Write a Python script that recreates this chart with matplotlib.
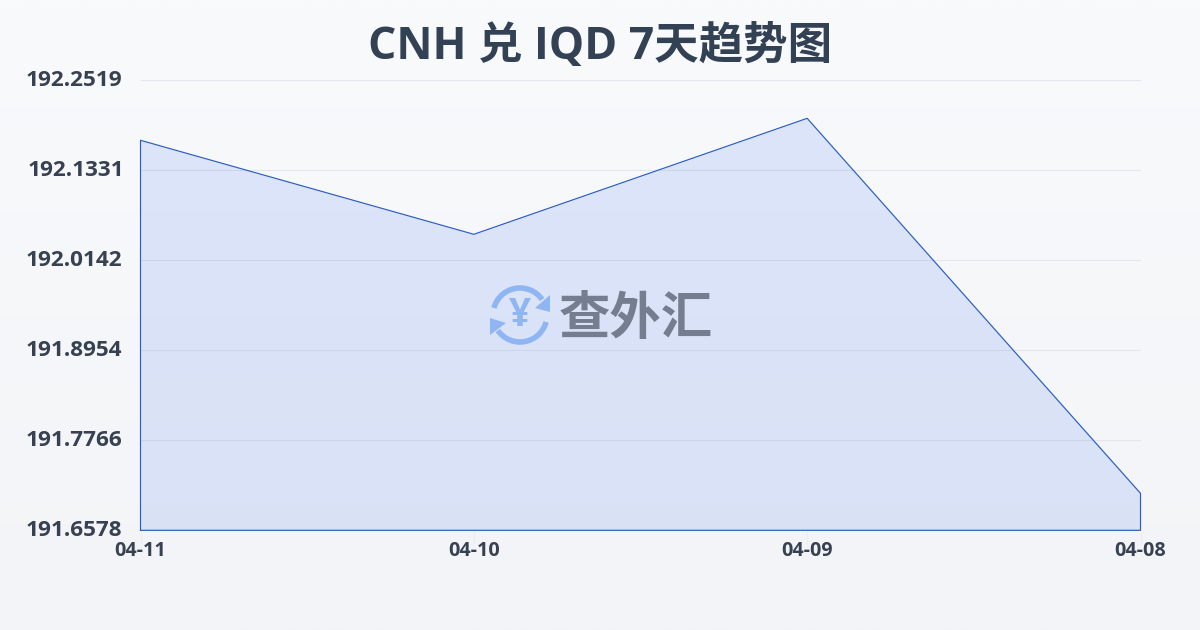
import matplotlib
matplotlib.use('Agg')
import matplotlib.pyplot as plt
import numpy as np
from matplotlib.patches import Arc, Polygon

plt.rcParams['font.family'] = ['Open Sans', 'Noto Sans CJK SC', 'DejaVu Sans']

dates = ['04-11', '04-10', '04-09', '04-08']
rates = [192.1727, 192.0486, 192.2017, 191.7066]
yticks = [192.2519, 192.1331, 192.0142, 191.8954, 191.7766, 191.6578]
ymin = 191.6578
ymax = 192.2519

fig = plt.figure(figsize=(12, 6.3), dpi=100)

# background gradient
bg = fig.add_axes([0, 0, 1, 1], zorder=0)
grad = np.linspace(0, 1, 256).reshape(-1, 1, 1)
top = np.array([0xf9, 0xfa, 0xfc]) / 255
bottom = np.array([0xf3, 0xf4, 0xf7]) / 255
bg.imshow(top + (bottom - top) * grad, aspect='auto', extent=[0, 1200, 630, 0])
bg.axis('off')

ax = fig.add_axes([140.5 / 1200, 99.7 / 630, 1000 / 1200, 450 / 630], zorder=1)
ax.patch.set_alpha(0)
x = np.arange(len(dates))
ax.fill_between(x, rates, ymin, color='#2563eb', alpha=0.13, lw=0, zorder=2)
ax.plot(list(x[:1]) + list(x) + list(x[-1:]) + list(x[:1]), [ymin] + rates + [ymin, ymin],
        color='#2a5cc4', lw=0.85, zorder=3, clip_on=False)
ax.set_xlim(0, 3)
ax.set_ylim(ymin, ymax)
ax.set_yticks(yticks)
ax.set_yticklabels([])
ax.set_xticks(x)
ax.set_xticklabels(dates, fontsize=14.2, fontweight='bold', color='#374151')
ax.tick_params(axis='x', length=10, width=0.8, color='#eceef1', pad=-2)
ax.tick_params(axis='y', length=0)
ax.grid(axis='y', color='#e3e6ec', lw=0.8)
ax.set_axisbelow(True)
for s in ax.spines.values():
    s.set_visible(False)

# overlay in pixel coordinates for labels and watermark
ov = fig.add_axes([0, 0, 1, 1], zorder=2)
ov.set_xlim(0, 1200)
ov.set_ylim(630, 0)
ov.axis('off')

ov.text(600, 48, 'CNH 兑 IQD 7天趋势图', ha='center', va='center', fontsize=32,
        fontweight='bold', color='#334155')

ylabel_x = [122, 124, 122, 122, 122, 122]
ylabel_y = [80, 170, 260, 350, 440, 530]
for t, lx, ly in zip(yticks, ylabel_x, ylabel_y):
    ov.text(lx, ly, f'{t:.4f}', ha='right', va='center', fontsize=16.2,
            fontweight='bold', color='#374151')

# watermark
blue = '#8fb6f2'
ov.add_patch(Arc((520, 315), 54, 54, theta1=195, theta2=325, color=blue, lw=4))
ov.add_patch(Arc((520, 315), 54, 54, theta1=15, theta2=145, color=blue, lw=4))
ov.add_patch(Polygon([[550, 295], [550, 312], [535, 308]], color=blue, lw=0))
ov.add_patch(Polygon([[490, 318], [490, 335], [506, 323]], color=blue, lw=0))
ov.text(520, 315, '¥', ha='center', va='center', fontsize=28, fontweight='bold', color=blue)
ov.text(636, 321, '查外汇', ha='center', va='center', fontsize=37, fontweight='bold', color='#747e90')

fig.savefig('out.png', dpi=100)
